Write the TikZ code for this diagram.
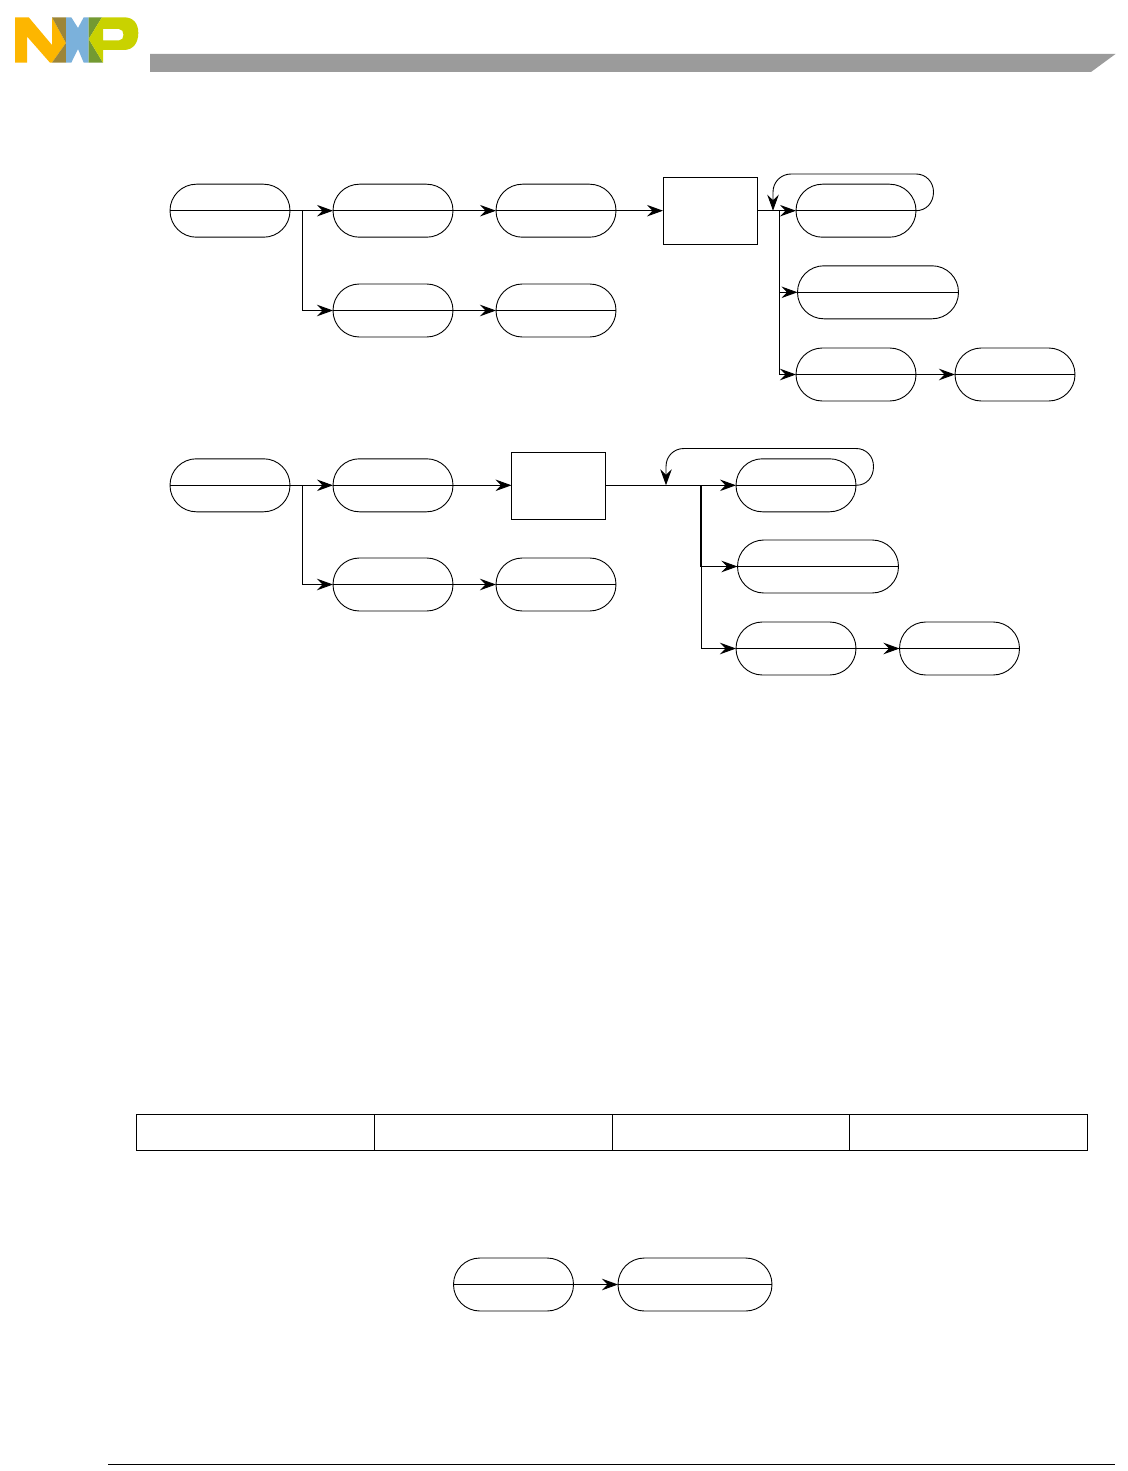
\documentclass[tikz,border=0pt]{standalone}
\usetikzlibrary{arrows.meta}
\definecolor{nxporange}{HTML}{FDB600}
\definecolor{nxpolive}{HTML}{9C8539}
\definecolor{nxpblue}{HTML}{7BB1DB}
\definecolor{nxpgreen}{HTML}{739A32}
\definecolor{nxplime}{HTML}{C9D200}
\definecolor{headgray}{HTML}{9B9B9B}
\tikzset{
  px/.style={x=1pt,y=-1pt},
  pill/.style={draw=black,line width=.9pt,rounded corners=26.4pt,minimum height=53pt,inner sep=0pt,outer sep=0pt,
    path picture={\draw[line width=.9pt] (path picture bounding box.west) -- (path picture bounding box.east);}},
  pillA/.style={pill,minimum width=120pt},
  pillB/.style={pill,minimum width=161pt},
  pillC/.style={pill,minimum width=154pt},
  bigbox/.style={draw=black,line width=.9pt,minimum width=94pt,minimum height=67.5pt,inner sep=0pt,outer sep=0pt},
  cell/.style={draw=black,line width=1pt,minimum width=237.75pt,minimum height=36pt,inner sep=0pt,outer sep=0pt},
  conn/.style={line width=.9pt},
  arr/.style={conn,-{Stealth[length=16pt,width=11.5pt,inset=5.5pt]}},
  thickpart/.style={line width=1.8pt}
}
\begin{document}
\begin{tikzpicture}[px]
\useasboundingbox (0,0) rectangle (1127,1471);
% logo
\fill[nxporange] (15,17.3)--(28.7,17.3)--(52,45)--(52,17.3)--(66,43)--(52,62.7)--(50,62.7)--(27,36.5)--(27,62.7)--(15,62.7)--cycle;
\fill[nxpolive] (52,17.3)--(66,17.3)--(66,43)--cycle;
\fill[nxpolive] (52,62.7)--(66,43)--(66,62.7)--cycle;
\fill[nxpblue] (66,17.3)--(71.3,17.3)--(78,28)--(83.7,17.3)--(88.7,17.3)--(88.7,62.7)--(83.7,62.7)--(78,49)--(71.3,62.7)--(66,62.7)--cycle;
\fill[nxpgreen] (88.7,17.3)--(102,17.3)--(88.7,39)--cycle;
\fill[nxpgreen] (88.7,39)--(103,62.7)--(88.7,62.7)--cycle;
\fill[nxplime,even odd rule] (102,17.3)--(124,17.3) .. controls (133,17.3) and (138.3,23) .. (138.3,33) .. controls (138.3,43) and (133,50) .. (124,50)--(103,50)--(103,62.7)--(88.7,39)--cycle
  (103,29)--(119,29) .. controls (125,29) and (125,40.5) .. (119,40.5)--(103,40.5)--cycle;
% header bar
\fill[headgray] (150,54)--(1115.5,54)--(1091,72)--(150,72)--cycle;
% top group
\node[pillA] (a1) at (230,210.7) {};
\node[pillA] (a2) at (393,210.7) {};
\node[pillA] (a3) at (556,210.7) {};
\node[bigbox] (a4) at (710,211) {};
\node[pillA] (a5) at (856,210.7) {};
\node[pillB] (a6) at (878,292.3) {};
\node[pillA] (a7) at (856,374.5) {};
\node[pillA] (a8) at (1015,374.5) {};
\node[pillA] (b2) at (393,310.5) {};
\node[pillA] (b3) at (556,310.5) {};
\coordinate (j1) at (302.5,210.7);
\coordinate (j2) at (779.5,210.7);
\coordinate (t1) at (773,210.7);
\draw[arr] (a1.east) -- (a2.west);
\draw[arr] (a2.east) -- (a3.west);
\draw[arr] (a3.east) -- (a3.east -| a4.west);
\draw[arr] (a5.west -| a4.east) -- (a5.west);
\draw[arr] (j1) |- (b2.west);
\draw[arr] (b2.east) -- (b3.west);
\draw[arr] (j2) |- (a6.west);
\draw[arr] (j2) |- (a7.west);
\draw[arr] (a7.east) -- (a8.west);
\draw[arr] (a5.east) .. controls +(10,0) and (933.5,203) .. (933.5,192) .. controls (933.5,182) and (926,174) .. (916,174) -- (791,174) .. controls (781,174) and (773,182) .. (773,192) -- (t1);
% second group
\node[pillA] (c1) at (230,485.3) {};
\node[pillA] (c2) at (393,485.3) {};
\node[bigbox] (c3) at (558.5,485.7) {};
\node[pillA] (c4) at (796,485.3) {};
\node[pillB] (c5) at (818,566.5) {};
\node[pillA] (c6) at (796,648.5) {};
\node[pillA] (c7) at (959.5,648.5) {};
\node[pillA] (d2) at (393,584.5) {};
\node[pillA] (d3) at (556,584.5) {};
\coordinate (j3) at (302.5,485.3);
\coordinate (j4) at (701,485.3);
\coordinate (t2) at (666,485.3);
\draw[arr] (c1.east) -- (c2.west);
\draw[arr] (c2.east) -- (c2.east -| c3.west);
\draw[arr] (c4.west -| c3.east) -- (c4.west);
\draw[arr] (j3) |- (d2.west);
\draw[arr] (d2.east) -- (d3.west);
\draw[arr] (j4) |- (c5.west);
\draw[arr] (j4) |- (c6.west);
\draw[thickpart] (j4) -- (c5.west -| j4);
\draw[arr] (c6.east) -- (c7.west);
\draw[arr] (c4.east) .. controls (867,485.3) and (873.5,477) .. (873.5,466.5) .. controls (873.5,456) and (866,448.5) .. (856,448.5) -- (684,448.5) .. controls (674,448.5) and (666,456) .. (666,466.5) -- (t2);
% table
\node[cell] (t_a) at (255.4,1132) {};
\node[cell] (t_b) at (493.2,1132) {};
\node[cell] (t_c) at (731,1132) {};
\node[cell] (t_d) at (968.6,1132) {};
% bottom pills
\node[pillA] (e1) at (513.5,1284.5) {};
\node[pillC] (e2) at (695,1284.5) {};
\draw[arr] (e1.east) -- (e2.west);
% footer rule
\coordinate (f1) at (108,1464.5);
\coordinate (f2) at (1115,1464.5);
\draw[line width=.9pt] (f1) -- (f2);
\end{tikzpicture}
\end{document}
